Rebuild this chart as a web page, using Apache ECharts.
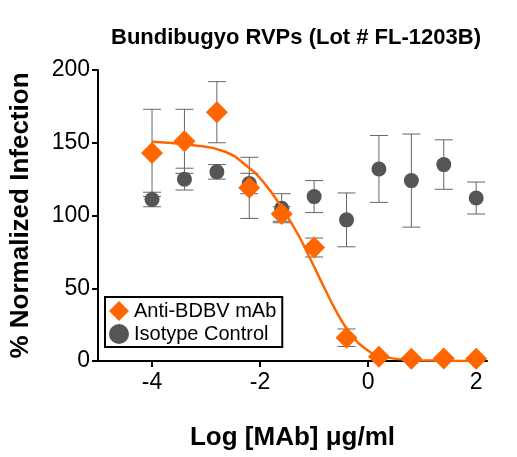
<!DOCTYPE html>
<html>
<head>
<meta charset="utf-8">
<script src="https://cdn.jsdelivr.net/npm/echarts@6/dist/echarts.min.js"></script>
<style>html,body{margin:0;padding:0;background:#fff}#chart{width:517px;height:457px}</style>
</head>
<body>
<div id="chart"></div>
<script>
const logDose = [-4, -3.4, -2.8, -2.2, -1.6, -1.0, -0.4, 0.2, 0.8, 1.4, 2.0];
const antiMean = [143, 151, 171, 119, 101, 78, 16, 3, 1.5, 1.8, 1.5];
const antiErr = [30, 22, 21, 21, 5, 6.5, 6, 1, 1, 1, 1];
const isoMean = [111, 125, 130, 122, 105, 113, 97, 132, 124, 135, 112];
const isoErr = [5, 7.5, 5, 7, 10, 11, 18.5, 23, 32, 17, 11];
const fitX = [-4.0, -3.27, -2.65, -2.23, -1.92, -1.61, -1.31, -1.06, -0.82, -0.57, -0.33, -0.02, 0.28, 0.77, 1.4, 2.0];
const fitY = [150.7, 148.4, 143.8, 133.5, 122.1, 106, 87.8, 69.4, 51, 32.8, 19, 7.6, 3, 0.7, 0.2, 0];
const xTicks = [-4, -2, 0, 2];

const orange = '#ff6600';
const grey = '#555555';

const errorSeries = (mean, err, color) => ({
    type: 'custom',
    silent: true,
    z: 1,
    renderItem: (params, api) => {
        const x = api.value(0);
        const lo = api.coord([x, api.value(1) - api.value(2)]);
        const hi = api.coord([x, api.value(1) + api.value(2)]);
        const w = 9;
        const style = {stroke: color, lineWidth: 1};
        return {
            type: 'group',
            children: [
                {type: 'line', shape: {x1: lo[0], y1: lo[1], x2: hi[0], y2: hi[1]}, style},
                {type: 'line', shape: {x1: lo[0] - w, y1: lo[1], x2: lo[0] + w, y2: lo[1]}, style},
                {type: 'line', shape: {x1: hi[0] - w, y1: hi[1], x2: hi[0] + w, y2: hi[1]}, style}
            ]
        };
    },
    data: logDose.map((x, i) => [x, mean[i], err[i]])
});

const chart = echarts.init(document.getElementById('chart'));
chart.setOption({
    animation: false,
    title: {
        text: 'Bundibugyo RVPs (Lot # FL-1203B)',
        left: 291, top: 22, textAlign: 'center',
        textStyle: {fontFamily: 'Liberation Sans', fontWeight: 'bold', fontSize: 22, color: '#000'}
    },
    grid: {left: 97, right: 30, top: 70, bottom: 96},
    legend: {
        orient: 'vertical', left: 105, top: 297,
        backgroundColor: '#fff', borderColor: '#000', borderWidth: 2,
        padding: [4, 6, 3, 4], itemGap: 3, itemWidth: 20, itemHeight: 20,
        textStyle: {fontFamily: 'Liberation Sans', fontSize: 20, color: '#000'},
        data: [{name: 'Anti-BDBV mAb', icon: 'diamond'}, {name: 'Isotype Control', icon: 'circle'}]
    },
    xAxis: {
        type: 'value', min: -5, max: 2.2,
        name: 'Log [MAb] μg/ml', nameLocation: 'middle', nameGap: 64,
        nameTextStyle: {fontFamily: 'Liberation Sans', fontWeight: 'bold', fontSize: 26, color: '#000'},
        axisLine: {onZero: false, lineStyle: {color: '#000', width: 2}},
        axisTick: {show: true, customValues: xTicks, length: 6, lineStyle: {width: 2, color: '#000'}},
        axisLabel: {customValues: xTicks, fontFamily: 'Liberation Sans', fontSize: 23, color: '#000', margin: 10},
        splitLine: {show: false}
    },
    yAxis: {
        type: 'value', min: 0, max: 200, interval: 50,
        name: '% Normalized Infection', nameLocation: 'middle', nameGap: 64,
        nameTextStyle: {fontFamily: 'Liberation Sans', fontWeight: 'bold', fontSize: 26, color: '#000'},
        axisLine: {show: true, onZero: false, lineStyle: {color: '#000', width: 2}},
        axisTick: {show: true, length: 6, lineStyle: {width: 2, color: '#000'}},
        axisLabel: {fontFamily: 'Liberation Sans', fontSize: 23, color: '#000', margin: 8},
        splitLine: {show: false}
    },
    series: [
        errorSeries(isoMean, isoErr, '#666666'),
        errorSeries(antiMean, antiErr, '#666666'),
        {
            name: 'Isotype Control', type: 'scatter', symbol: 'circle', symbolSize: 15, z: 2,
            itemStyle: {color: grey, opacity: 1},
            data: logDose.map((x, i) => [x, isoMean[i]])
        },
        {
            type: 'line', showSymbol: false, smooth: true, z: 3, silent: true,
            lineStyle: {color: orange, width: 2.5},
            data: fitX.map((x, i) => [x, fitY[i]])
        },
        {
            name: 'Anti-BDBV mAb', type: 'scatter', symbol: 'diamond', symbolSize: 22, z: 4,
            itemStyle: {color: orange, opacity: 1},
            data: logDose.map((x, i) => [x, antiMean[i]])
        }
    ]
});
</script>
</body>
</html>
